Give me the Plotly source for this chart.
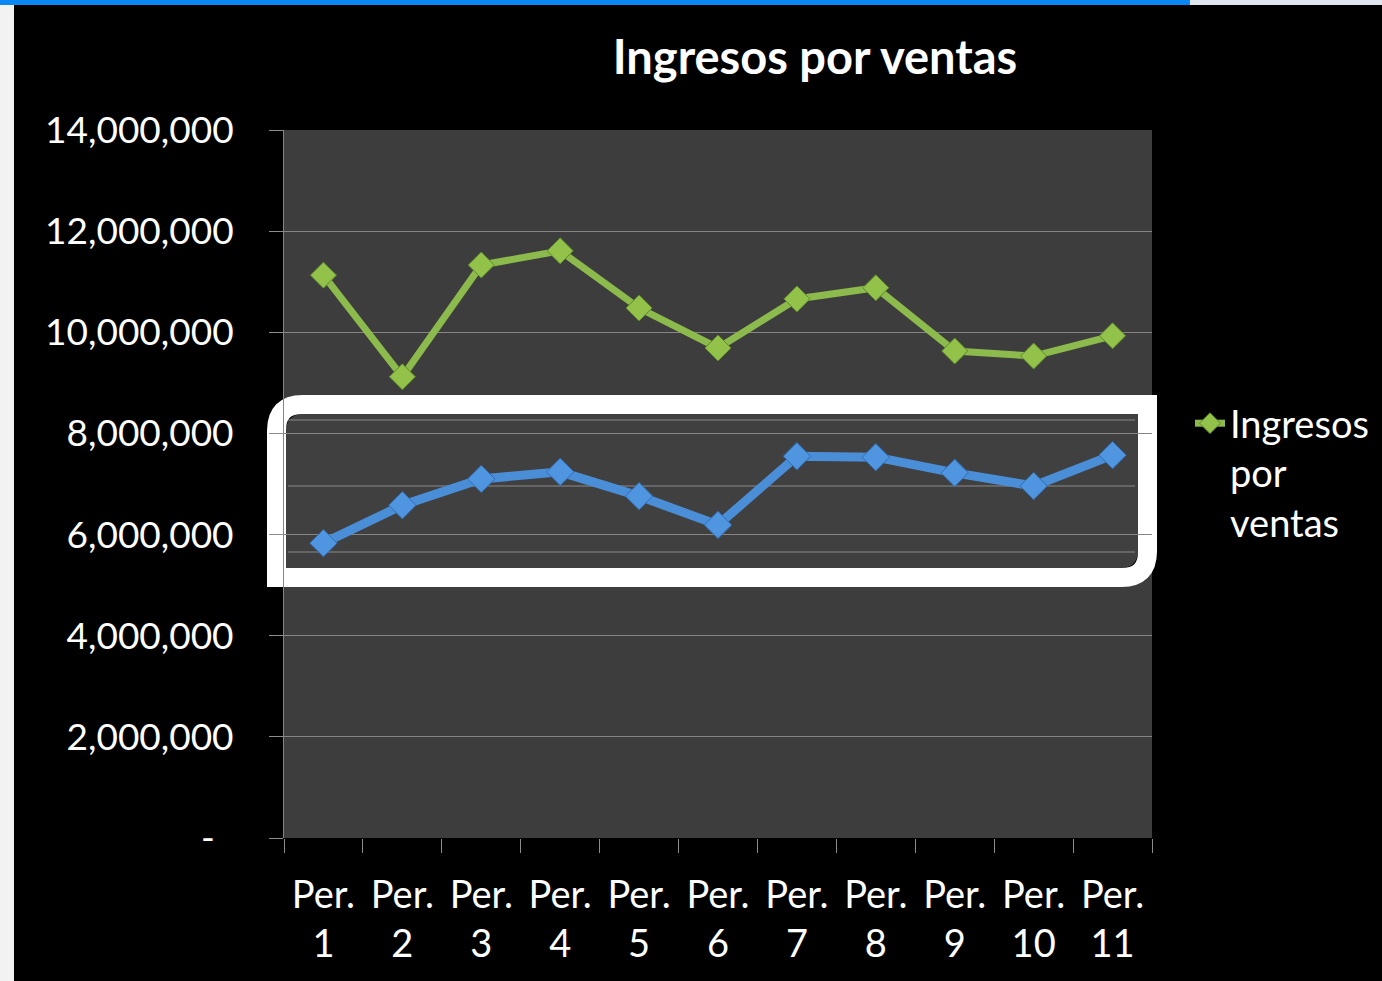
import plotly.graph_objects as go

# datos del grafico
periodos = ["Per. 1", "Per. 2", "Per. 3", "Per. 4", "Per. 5", "Per. 6",
            "Per. 7", "Per. 8", "Per. 9", "Per. 10", "Per. 11"]
etiquetas_x = ["Per.<br>1", "Per.<br>2", "Per.<br>3", "Per.<br>4", "Per.<br>5", "Per.<br>6",
               "Per.<br>7", "Per.<br>8", "Per.<br>9", "Per.<br>10", "Per.<br>11"]
ingresos = [11130000, 9120000, 11330000, 11610000, 10480000, 9690000,
            10660000, 10880000, 9630000, 9530000, 9930000]
# serie azul del recuadro resaltado
resaltado = [5830000, 6580000, 7100000, 7240000, 6760000, 6190000,
             7550000, 7530000, 7220000, 6960000, 7570000]
y_ticks = [0, 2000000, 4000000, 6000000, 8000000, 10000000, 12000000, 14000000]
y_labels = ["-\u00a0\u00a0", "2,000,000", "4,000,000", "6,000,000", "8,000,000",
            "10,000,000", "12,000,000", "14,000,000"]

W, H = 1382, 981
L, R, T, B = 284, 1152, 130, 838
FONT = "Lato"


def px_x(p):
    return (p - L) / (R - L)


def px_y(p):
    return (B - p) / (B - T)


def diag_rect(x0, y0, x1, y1, r):
    # rectangulo con esquinas redondeadas arriba-izq y abajo-der (pixeles -> paper)
    pts = [
        ("M", [(x0, y0 + r)]),
        ("Q", [(x0, y0), (x0 + r, y0)]),
        ("L", [(x1, y0)]),
        ("L", [(x1, y1 - r)]),
        ("Q", [(x1, y1), (x1 - r, y1)]),
        ("L", [(x0, y1)]),
    ]
    s = ""
    for cmd, ps in pts:
        s += cmd + " " + " ".join(f"{px_x(a):.5f},{px_y(b):.5f}" for a, b in ps) + " "
    return s + "Z"


fig = go.Figure()

fig.add_trace(go.Scatter(
    x=periodos, y=ingresos, name="Ingresos<br>por<br>ventas",
    mode="lines+markers",
    line=dict(color="#8dba4c", width=7),
    marker=dict(symbol="diamond", size=20, color="#92c24a",
                line=dict(color="#5f8a2c", width=1)),
))

fig.add_trace(go.Scatter(
    x=periodos, y=resaltado, xaxis="x2", showlegend=False,
    mode="lines+markers",
    line=dict(color="#4a8ed8", width=9),
    marker=dict(symbol="diamond", size=21, color="#4f95e0",
                line=dict(color="#2f6db5", width=1)),
))

shapes = [
    # recuadro: fondo y borde negro interior
    dict(type="path", xref="paper", yref="paper", layer="between",
         path=diag_rect(284, 412, 1140, 570, 20),
         fillcolor="#404040", line=dict(color="black", width=4)),
]
for gy in [420, 486, 552]:
    shapes.append(dict(type="line", xref="paper", yref="paper", layer="between",
                       x0=px_x(288), x1=px_x(1135), y0=px_y(gy), y1=px_y(gy),
                       line=dict(color="#8a8a8a", width=1)))
shapes += [
    dict(type="path", xref="paper", yref="paper", layer="between",
         path=diag_rect(276.5, 404.5, 1147.5, 577.5, 26),
         fillcolor="rgba(0,0,0,0)", line=dict(color="white", width=19)),
    # elementos de la diapositiva
    dict(type="rect", xref="paper", yref="paper", layer="above",
         x0=px_x(0), x1=px_x(W), y0=px_y(0), y1=px_y(5),
         fillcolor="#0b86f5", line=dict(width=0)),
    dict(type="rect", xref="paper", yref="paper", layer="above",
         x0=px_x(1190), x1=px_x(W), y0=px_y(0), y1=px_y(5),
         fillcolor="#dfe6ee", line=dict(width=0)),
    dict(type="rect", xref="paper", yref="paper", layer="above",
         x0=px_x(0), x1=px_x(14), y0=px_y(5), y1=px_y(H),
         fillcolor="#f2f2f2", line=dict(width=0)),
]

fig.update_layout(
    width=W, height=H,
    margin=dict(l=L, r=W - R, t=T, b=H - B, autoexpand=False),
    paper_bgcolor="black",
    plot_bgcolor="#3d3d3d",
    font=dict(family=FONT, color="white", size=37),
    title=dict(text="Ingresos por ventas", x=px_x(815), xref="paper", xanchor="center",
               y=1 - 58 / H, yref="container", yanchor="middle",
               font=dict(family=FONT, size=47, color="white", weight="bold")),
    showlegend=True,
    legend=dict(x=px_x(1190), y=px_y(392), xanchor="left", yanchor="top",
                bgcolor="rgba(0,0,0,0)", font=dict(size=38, color="white"),
                valign="top", tracegroupgap=0),
    shapes=shapes,
)

fig.update_xaxes(
    type="category", categoryorder="array", categoryarray=periodos,
    tickvals=periodos, ticktext=etiquetas_x,
    showgrid=False, showline=False, zeroline=False,
    ticks="outside", tickson="boundaries", ticklen=14, tickcolor="#8c8c8c",
    ticklabelstandoff=31, tickfont=dict(size=38),
    range=[-0.5, 10.5],
)
fig.update_layout(xaxis2=dict(
    type="category", overlaying="x", anchor="y", visible=False,
    domain=[px_x(286.5), px_x(1133.5)], range=[-0.5, 10.5],
))
fig.update_layout(xaxis=dict(domain=[0, 1]))

fig.update_yaxes(
    range=[0, 14000000], tickvals=y_ticks, ticktext=y_labels,
    showgrid=True, gridcolor="#858585", gridwidth=1,
    showline=True, linecolor="#858585", linewidth=1, mirror=False,
    zeroline=False, ticks="outside", ticklen=14, tickcolor="#8c8c8c",
    ticklabelstandoff=28,
)

fig.write_html("out.html", config={"displayModeBar": False},
               post_script="document.body.style.margin='0';")
